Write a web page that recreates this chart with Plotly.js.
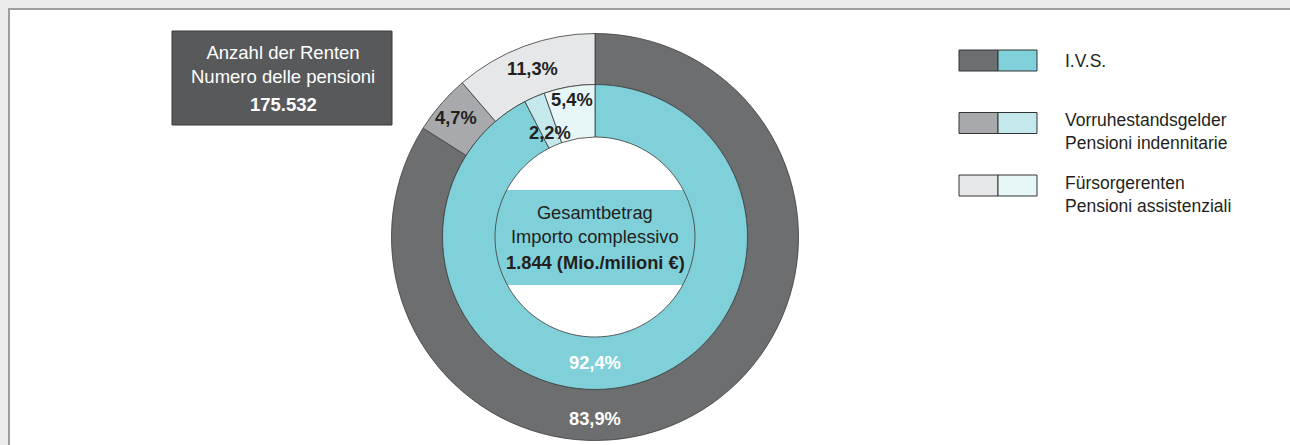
<!DOCTYPE html>
<html><head><meta charset="utf-8">
<script src="https://cdn.plot.ly/plotly-3.0.1.min.js"></script>
<style>html,body{margin:0;padding:0;background:#ebeceb;overflow:hidden}#chart{width:1290px;height:445px}</style>
</head><body><div id="chart"></div>
<script>
// ---- data ----
const categories = ['I.V.S.', 'Vorruhestandsgelder', 'Fürsorgerenten'];
const legendLabels = ['I.V.S.', 'Vorruhestandsgelder<br>Pensioni indennitarie', 'Fürsorgerenten<br>Pensioni assistenziali'];
const pensionShare = [83.9, 4.7, 11.3];   // outer ring: Anzahl der Renten
const amountShare = [92.4, 2.2, 5.4];     // inner ring: Gesamtbetrag
const countTitle = 'Anzahl der Renten<br>Numero delle pensioni';
const countValue = '175.532';
const amountTitle = 'Gesamtbetrag<br>Importo complessivo';
const amountValue = '1.844 (Mio./milioni €)';

// ---- style / geometry ----
const W = 1290, H = 445;
const CX = 595, CY = 237;
const R_OUT = 203.5, R_MID = 152.5, R_IN = 100;
const outerColors = ['#6d6e70', '#a7a9ac', '#e6e7e8'];
const innerColors = ['#7fd0d8', '#c4e8ec', '#e7f6f7'];
const FONT = 'Liberation Sans, Arial, sans-serif';
const DARK = '#231f20';
const px = x => x / W;
const py = y => 1 - y / H;

function dom(r) {
  return { x: [px(CX - r), px(CX + r)], y: [py(CY + r), py(CY - r)] };
}
const lineStyle = { color: '#3a3a3a', width: 0.8 };

const traces = [
  {
    type: 'pie', labels: categories, values: pensionShare, sort: false,
    direction: 'clockwise', rotation: 0, hole: R_MID / R_OUT,
    domain: dom(R_OUT), textinfo: 'none', hoverinfo: 'skip',
    marker: { colors: outerColors, line: lineStyle }, showlegend: false
  },
  {
    type: 'pie', labels: categories, values: amountShare, sort: false,
    direction: 'clockwise', rotation: 0, hole: R_IN / R_MID,
    domain: dom(R_MID), textinfo: 'none', hoverinfo: 'skip',
    marker: { colors: innerColors, line: lineStyle }, showlegend: false
  }
];

const fmt = v => v.toFixed(1).replace('.', ',') + '%';
const annotations = [];
function ringLabels(vals, rDefault, rOverrides, colors) {
  const total = vals.reduce((a, b) => a + b, 0);
  let cum = 0;
  vals.forEach((v, i) => {
    let mid = (cum + v / 2) / total * 360;
    cum += v;
    if (i === 0) mid = 180; // dominant slice labelled at the bottom
    const r = rOverrides[i] || rDefault;
    const a = mid * Math.PI / 180;
    annotations.push({
      xref: 'paper', yref: 'paper',
      x: px(CX + r * Math.sin(a)), y: py(CY - r * Math.cos(a)),
      text: '<b>' + fmt(v) + '</b>', showarrow: false,
      xanchor: 'center', yanchor: 'middle',
      font: { family: FONT, size: 18.3, color: colors[i] }
    });
  });
}
ringLabels(pensionShare, 180, [181, 183, 180], ['#ffffff', DARK, DARK]);
ringLabels(amountShare, 126, [125, 114, 139], ['#ffffff', DARK, DARK]);

// top-left box texts
annotations.push({ xref: 'paper', yref: 'paper', x: px(283), y: py(64.5), text: countTitle,
  showarrow: false, xanchor: 'center', yanchor: 'middle',
  font: { family: FONT, size: 18.5, color: '#ffffff' } });
annotations.push({ xref: 'paper', yref: 'paper', x: px(283), y: py(104), text: '<b>' + countValue + '</b>',
  showarrow: false, xanchor: 'center', yanchor: 'middle',
  font: { family: FONT, size: 18.5, color: '#ffffff' } });
// center texts
annotations.push({ xref: 'paper', yref: 'paper', x: px(CX), y: py(224), text: amountTitle,
  showarrow: false, xanchor: 'center', yanchor: 'middle',
  font: { family: FONT, size: 18.3, color: DARK } });
annotations.push({ xref: 'paper', yref: 'paper', x: px(CX), y: py(262), text: '<b>' + amountValue + '</b>',
  showarrow: false, xanchor: 'center', yanchor: 'middle',
  font: { family: FONT, size: 18.3, color: DARK } });

const shapes = [
  // white panel with gray frame
  { type: 'rect', xref: 'paper', yref: 'paper', layer: 'below',
    x0: px(9), x1: px(W + 10), y0: py(H + 10), y1: py(9),
    fillcolor: '#ffffff', line: { color: '#9e9e9e', width: 2 } },
  // cyan band behind hole
  { type: 'rect', xref: 'paper', yref: 'paper', layer: 'below',
    x0: px(470), x1: px(720), y0: py(285), y1: py(190),
    fillcolor: innerColors[0], line: { width: 0 } },
  // top-left box
  { type: 'rect', xref: 'paper', yref: 'paper', layer: 'below',
    x0: px(172), x1: px(392), y0: py(125), y1: py(31),
    fillcolor: '#58595b', line: { color: '#3a3a3a', width: 1 } }
];

// legend (two-tone swatches)
const rowY = [60.5, 123, 185.5];
const textY = [61, 131.5, 194.5];
categories.forEach((c, i) => {
  shapes.push({ type: 'rect', xref: 'paper', yref: 'paper',
    x0: px(959), x1: px(998), y0: py(rowY[i] + 10.5), y1: py(rowY[i] - 10.5),
    fillcolor: outerColors[i], line: { color: '#333333', width: 1 } });
  shapes.push({ type: 'rect', xref: 'paper', yref: 'paper',
    x0: px(998), x1: px(1037), y0: py(rowY[i] + 10.5), y1: py(rowY[i] - 10.5),
    fillcolor: innerColors[i], line: { color: '#333333', width: 1 } });
  annotations.push({ xref: 'paper', yref: 'paper', x: px(1063), y: py(textY[i]),
    text: legendLabels[i], showarrow: false, xanchor: 'left', yanchor: 'middle', align: 'left',
    font: { family: FONT, size: 17.5, color: DARK } });
});

const layout = {
  width: W, height: H, autosize: false,
  margin: { l: 0, r: 0, t: 0, b: 0, pad: 0 },
  paper_bgcolor: '#ebeceb', plot_bgcolor: '#ffffff',
  showlegend: false, shapes, annotations,
  font: { family: FONT }
};
Plotly.newPlot('chart', traces, layout, { displayModeBar: false, staticPlot: true });
</script>
</body></html>
